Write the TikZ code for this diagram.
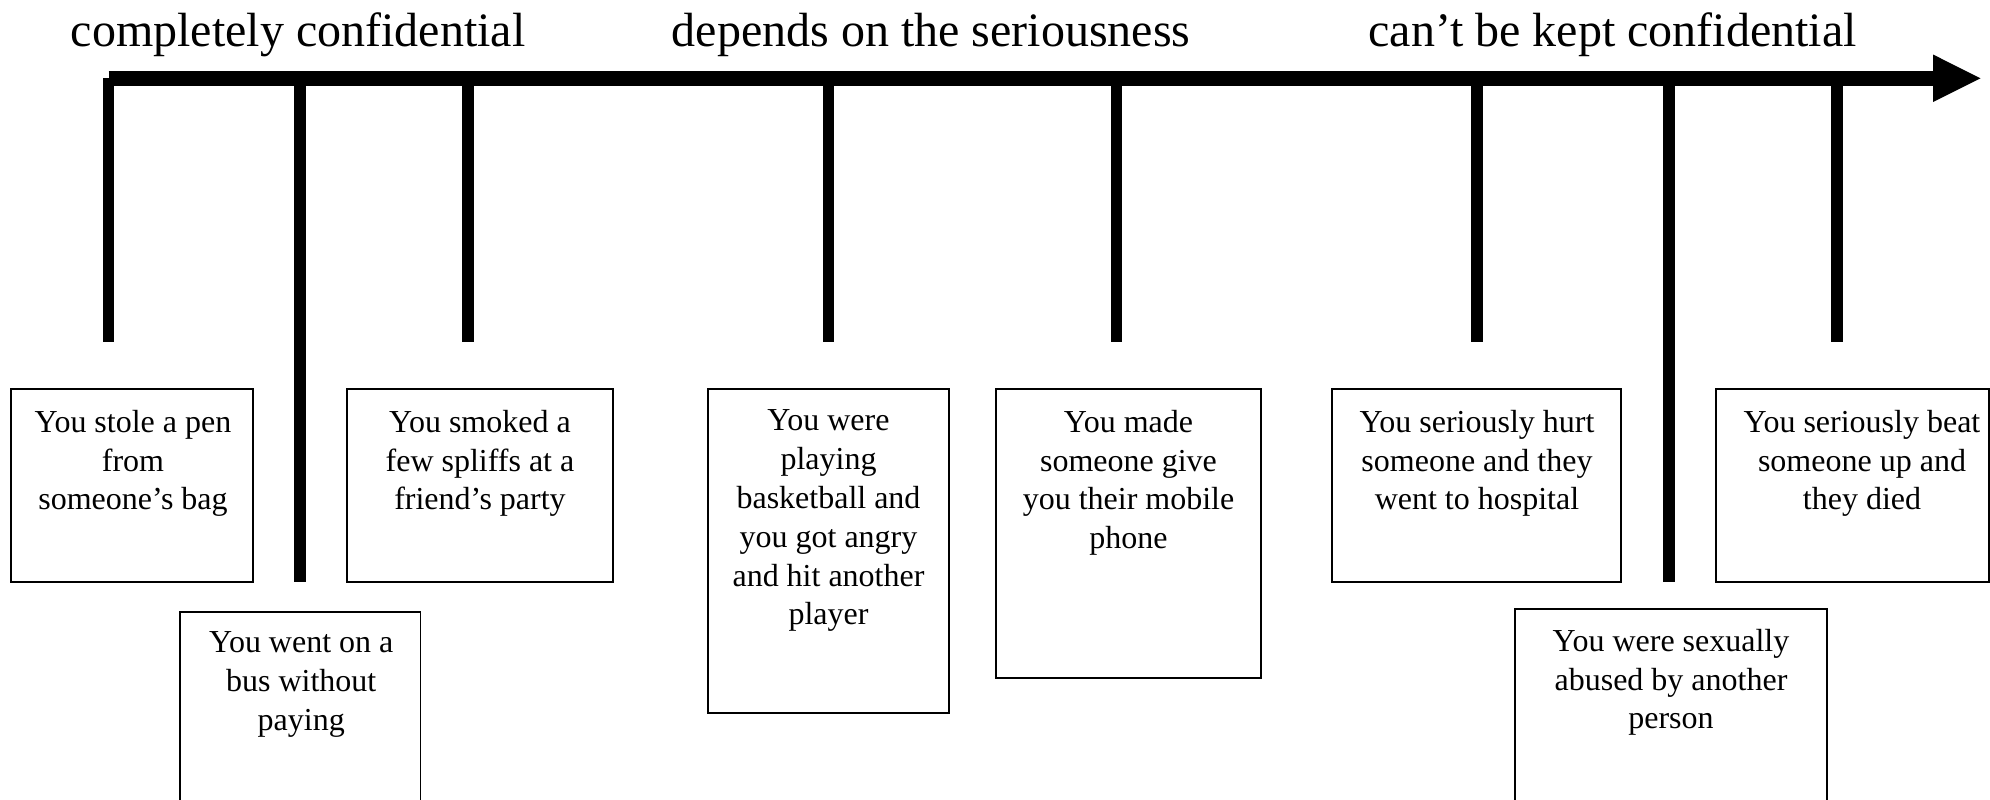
\documentclass[tikz,border=0pt]{standalone}
\usepackage{fontspec}
\setmainfont{Liberation Serif}
\usetikzlibrary{calc,fit}
\begin{document}
\begin{tikzpicture}[x=0.5pt,y=-0.5pt,
  card/.style={draw=black, line width=0.9pt, inner sep=0pt, rectangle},
  cardtext/.style={anchor=north, align=center, inner sep=0pt, font=\fontsize{16pt}{19.4pt}\selectfont},
  heading/.style={anchor=base west, inner sep=0pt, font=\fontsize{24pt}{28pt}\selectfont},
  tickline/.style={line width=5.8pt},
  axisline/.style={line width=7.65pt}]
\useasboundingbox (0,0) rectangle (1990,799);
\clip (0,0) rectangle (1990,799);

% headings
\node[heading] (h1) at (70.5,46.7) {completely confidential};
\node[heading] (h2) at (671.5,46.7) {depends on the seriousness};
\node[heading] (h3) at (1368,46.7) {can’t be kept confidential};

% axis
\coordinate (axS) at (108.7,78.3);
\coordinate (axE) at (1933,78.3);
\draw[axisline] (axS) -- (axE);
\fill[black] ($(axE)+(0,-23.8)$) -- ($(axE)+(47.5,0)$) -- ($(axE)+(0,23.8)$) -- cycle;

% ticks
\foreach \n/\x/\y in {1/108.5/341.7, 2/300/581.7, 3/468/341.7, 4/828.5/341.7,
                      5/1116.5/341.7, 6/1476.7/341.7, 7/1669/581.7, 8/1837/341.7}{
  \coordinate (k\n a) at (\x,78.3);
  \coordinate (k\n b) at (\x,\y);
  \draw[tickline] (k\n a) -- (k\n b);
}

% cards
\node[card, fit={(11,389) (253,582)}] (b1) {};
\node[card, fit={(180,612) (420.5,810)}] (b2) {};
\node[card, fit={(347,389) (613,582)}] (b3) {};
\node[card, fit={(708,389) (949,713)}] (b4) {};
\node[card, fit={(996,389) (1261,678)}] (b5) {};
\node[card, fit={(1332,389) (1621,582)}] (b6) {};
\node[card, fit={(1716,389) (1989,582)}] (b7) {};
\node[card, fit={(1515,609) (1827,810)}] (b8) {};

\node[cardtext] (t1) at ($(b1.north)+(1,21.5)$) {You stole a pen\\from\\someone’s bag};
\node[cardtext] (t2) at ($(b2.north)+(1,20.5)$) {You went on a\\bus without\\paying};
\node[cardtext] (t3) at ($(b3.north)+(0,21.5)$) {You smoked a\\few spliffs at a\\friend’s party};
\node[cardtext] (t4) at ($(b4.north)+(0,21.5)$) {You were\\playing\\basketball and\\you got angry\\and hit another\\player};
\node[cardtext] (t5) at ($(b5.north)+(0,21.5)$) {You made\\someone give\\you their mobile\\phone};
\node[cardtext] (t6) at ($(b6.north)+(0.5,21.5)$) {You seriously hurt\\someone and they\\went to hospital};
\node[cardtext] (t7) at ($(b7.north)+(9.5,21.5)$) {You seriously beat\\someone up and\\they died};
\node[cardtext] (t8) at ($(b8.north)+(0,20.5)$) {You were sexually\\abused by another\\person};
\end{tikzpicture}
\end{document}
